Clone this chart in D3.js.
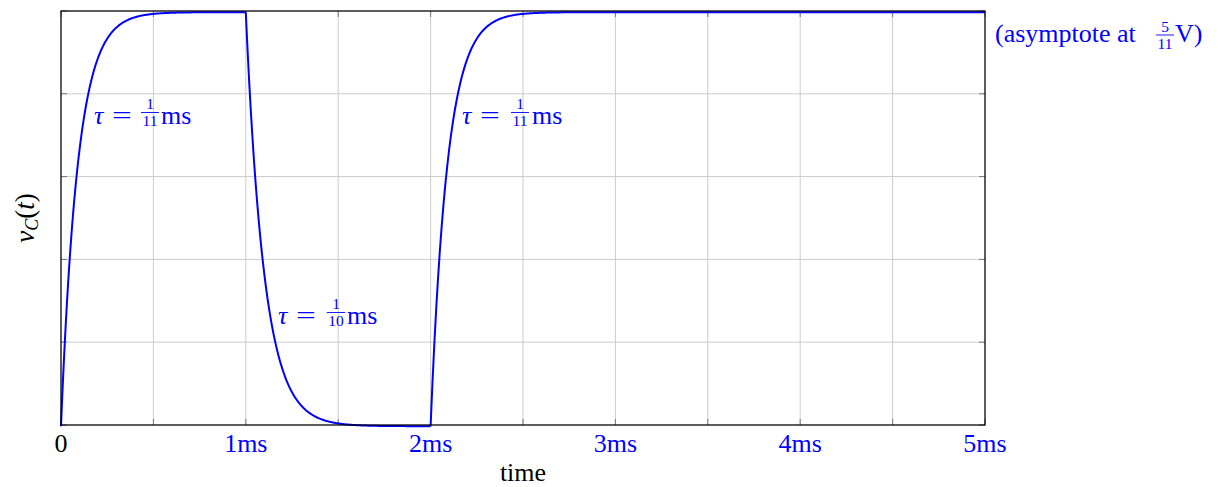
<!DOCTYPE html>
<html>
<head>
  <title>Capacitor voltage</title>
  <script src="https://d3js.org/d3.v7.min.js"></script>
  <style>
    body { margin: 0; background: #fff; }
    text { font-family: "Liberation Serif", "DejaVu Serif", serif; white-space: pre; }
  </style>
</head>
<body>
  <div id="chart"></div>
  <script>
    // segments of the capacitor voltage: start/end time (ms), start/end level (V), time constant (ms)
    const segStart = [0, 1, 2];
    const segEnd = [1, 2, 5];
    const segFrom = [0, 5 / 11, 0];
    const segTo = [5 / 11, 0, 5 / 11];
    const segTau = [1 / 11, 1 / 10, 1 / 11];

    const xTicks = [0, 0.5, 1, 1.5, 2, 2.5, 3, 3.5, 4, 4.5, 5];
    const xLabels = { 0: "0", 1: "1ms", 2: "2ms", 3: "3ms", 4: "4ms", 5: "5ms" };
    const yTicks = [0, 1 / 11, 2 / 11, 3 / 11, 4 / 11, 5 / 11];

    const tauNum = ["1", "1", "1"];
    const tauDen = ["11", "10", "11"];

    const W = 1218, H = 487;
    const margin = { top: 11, right: 233, bottom: 62, left: 61 };
    const width = W - margin.left - margin.right;
    const height = H - margin.top - margin.bottom;
    const blue = "#0000ff";

    const x = d3.scaleLinear().domain([0, 5]).range([0, width]);
    const y = d3.scaleLinear().domain([0, 5 / 11]).range([height, 0]);

    const svg = d3.select("#chart").append("svg")
      .attr("width", W).attr("height", H);
    const g = svg.append("g")
      .attr("transform", "translate(" + margin.left + "," + margin.top + ")");

    // grid
    g.append("g").selectAll("line").data(xTicks).join("line")
      .attr("x1", d => x(d)).attr("x2", d => x(d))
      .attr("y1", 0).attr("y2", height)
      .attr("stroke", "#cccccc").attr("stroke-width", 1);
    g.append("g").selectAll("line").data(yTicks).join("line")
      .attr("x1", 0).attr("x2", width)
      .attr("y1", d => y(d)).attr("y2", d => y(d))
      .attr("stroke", "#cccccc").attr("stroke-width", 1);

    // inner tick marks
    const tl = 6;
    const ticks = g.append("g").attr("stroke", "#777").attr("stroke-width", 1);
    xTicks.forEach(d => {
      ticks.append("line").attr("x1", x(d)).attr("x2", x(d)).attr("y1", height).attr("y2", height - tl);
      ticks.append("line").attr("x1", x(d)).attr("x2", x(d)).attr("y1", 0).attr("y2", tl);
    });
    yTicks.forEach(d => {
      ticks.append("line").attr("x1", 0).attr("x2", tl).attr("y1", y(d)).attr("y2", y(d));
      ticks.append("line").attr("x1", width).attr("x2", width - tl).attr("y1", y(d)).attr("y2", y(d));
    });

    // curve
    const pts = [];
    segStart.forEach((s, i) => {
      const n = 300;
      for (let k = 0; k <= n; k++) {
        const t = s + (segEnd[i] - s) * k / n;
        const v = segTo[i] + (segFrom[i] - segTo[i]) * Math.exp(-(t - s) / segTau[i]);
        pts.push([t, v]);
      }
    });
    g.append("path")
      .datum(pts)
      .attr("fill", "none")
      .attr("stroke", blue)
      .attr("stroke-width", 2)
      .attr("transform", "translate(0,1.2)")
      .attr("d", d3.line().x(d => x(d[0])).y(d => y(d[1])));

    // frame
    g.append("rect")
      .attr("x", 0).attr("y", 0).attr("width", width).attr("height", height)
      .attr("fill", "none").attr("stroke", "#000").attr("stroke-width", 1.2);

    // x tick labels
    g.append("g").selectAll("text").data(Object.keys(xLabels)).join("text")
      .attr("x", d => x(+d))
      .attr("y", height + 27)
      .attr("text-anchor", "middle")
      .style("font-size", "26px")
      .attr("fill", d => +d === 0 ? "#000" : blue)
      .text(d => xLabels[d]);

    svg.append("text")
      .attr("x", 523).attr("y", 481)
      .attr("text-anchor", "middle")
      .style("font-size", "26px")
      .text("time");

    // y label v_C(t)
    const yl = svg.append("text")
      .attr("transform", "translate(34,218) rotate(-90)")
      .attr("text-anchor", "middle")
      .style("font-size", "27px");
    yl.append("tspan").style("font-style", "italic").text("v");
    yl.append("tspan").style("font-style", "italic").style("font-size", "18px").attr("dy", 4).text("C");
    yl.append("tspan").attr("dy", -4).text("(");
    yl.append("tspan").style("font-style", "italic").text("t");
    yl.append("tspan").text(")");

    // pieces: [text, dx, italic, xscale]; fraction centred at fx with offsets off = [num, bar, den]
    function fracLabel(px, py, pieces, num, den, fx, off, after, ax) {
      const lg = svg.append("g").attr("transform", "translate(" + px + "," + py + ")").attr("fill", blue);
      pieces.forEach(p => {
        lg.append("text")
          .attr("transform", "translate(" + p[1] + ",0) scale(" + (p[3] || 1) + ",1)")
          .style("font-size", "26px")
          .style("font-style", p[2] ? "italic" : "normal")
          .text(p[0]);
      });
      const nt = lg.append("text").style("font-size", "15.5px").attr("text-anchor", "middle")
        .attr("x", fx).attr("y", off[0]).text(num);
      const dt = lg.append("text").style("font-size", "15.5px").attr("text-anchor", "middle")
        .attr("x", fx).attr("y", off[2]).text(den);
      const fw = Math.max(nt.node().getComputedTextLength(), dt.node().getComputedTextLength()) + 3;
      lg.append("line").attr("x1", fx - fw / 2).attr("x2", fx + fw / 2)
        .attr("y1", off[1]).attr("y2", off[1])
        .attr("stroke", blue).attr("stroke-width", 0.9);
      lg.append("text").attr("x", ax).attr("y", 0).style("font-size", "26px").text(after);
    }

    const tauPieces = [["τ", 0, true, 1], ["=", 18, false, 1.35]];
    const tauOff = [-15.5, -11.5, 2];
    fracLabel(94, 124, tauPieces, tauNum[0], tauDen[0], 56, tauOff, "ms", 67);
    fracLabel(278, 324, tauPieces, tauNum[1], tauDen[1], 58, tauOff, "ms", 69);
    fracLabel(462, 124, tauPieces, tauNum[2], tauDen[2], 58, tauOff, "ms", 70);
    const asymPieces = [["(asymptote", 0, false, 1], ["at", 122, false, 1]];
    fracLabel(995, 42, asymPieces, "5", "11", 170, [-10.5, -7, 7], "V)", 180);
  </script>
</body>
</html>
